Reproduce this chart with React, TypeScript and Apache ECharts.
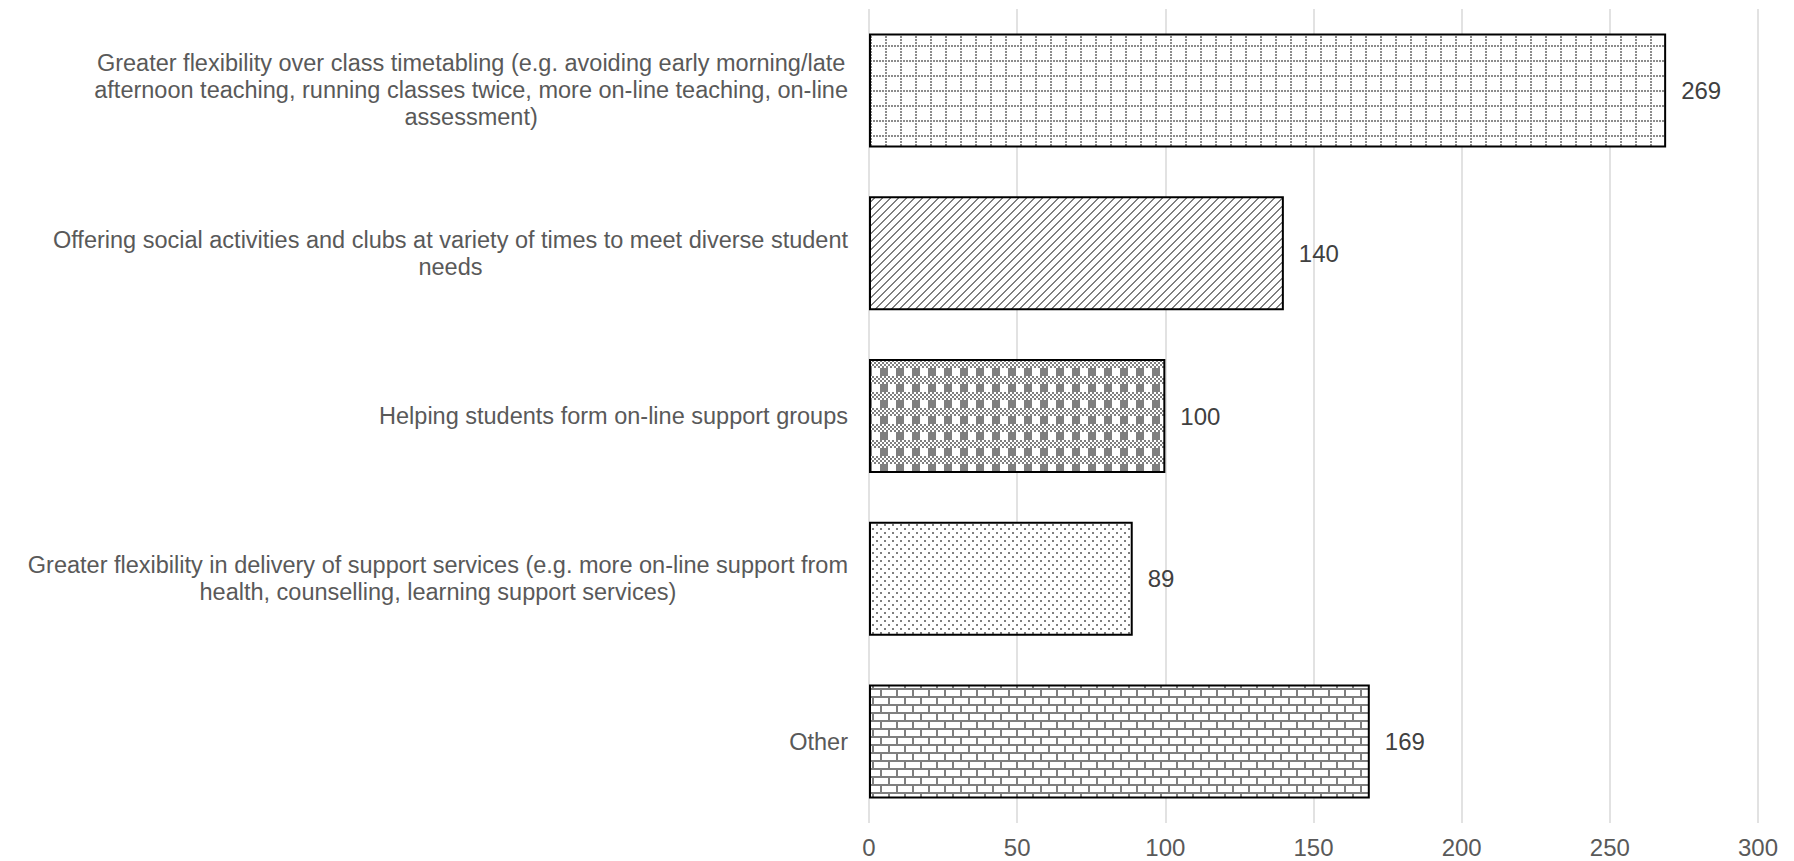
import React, { useEffect, useRef } from "react";
import * as echarts from "echarts";

const categories: string[] = [
  "Greater flexibility over class timetabling (e.g. avoiding early morning/late\nafternoon teaching, running classes twice, more on-line teaching, on-line\nassessment)",
  "Offering social activities and clubs at variety of times to meet diverse student\nneeds",
  "Helping students form on-line support groups",
  "Greater flexibility in delivery of support services (e.g. more on-line support from\nhealth, counselling, learning support services)",
  "Other",
];

const values: number[] = [269, 140, 100, 89, 169];

const xTicks = { min: 0, max: 300, interval: 50 };

const FONT = '"Liberation Sans", Arial, Helvetica, sans-serif';
const INK = "#7f7f7f";

type Painter = (ctx: CanvasRenderingContext2D) => void;

function makeTile(w: number, h: number, paint: Painter): HTMLCanvasElement {
  const c = document.createElement("canvas");
  c.width = w;
  c.height = h;
  const ctx = c.getContext("2d")!;
  ctx.fillStyle = "#ffffff";
  ctx.fillRect(0, 0, w, h);
  ctx.fillStyle = INK;
  paint(ctx);
  return c;
}

// dotted grid
const dottedGrid: Painter = (ctx) => {
  ctx.fillStyle = "#8c8c8c";
  for (let i = 0; i < 15; i += 3) {
    ctx.fillRect(i, 0, 2, 2);
    ctx.fillRect(0, i, 2, 2);
  }
};

// upward diagonal hatch
const diagonal: Painter = (ctx) => {
  for (let y = 0; y < 8; y++) {
    const x0 = 7 - y;
    for (let k = 0; k < 2; k++) ctx.fillRect((x0 + k) % 8, y, 1, 1);
  }
};

// plaid
const plaid: Painter = (ctx) => {
  ctx.fillRect(0, 0, 8, 8);
  for (let y = 8; y < 16; y += 2) {
    for (let x = 0; x < 16; x += 2) {
      if (((x + y) / 2) % 2 === 0) ctx.fillRect(x, y, 2, 2);
    }
  }
};

// small dots
const dots: Painter = (ctx) => {
  ctx.fillRect(0, 0, 2, 2);
  ctx.fillRect(4, 4, 2, 2);
};

// brick
const brick: Painter = (ctx) => {
  ctx.fillRect(0, 0, 16, 2);
  ctx.fillRect(0, 8, 16, 2);
  ctx.fillRect(0, 0, 2, 8);
  ctx.fillRect(8, 8, 2, 8);
};

export default function App() {
  const ref = useRef<HTMLDivElement>(null);

  useEffect(() => {
    if (!ref.current) return;
    const chart = echarts.init(ref.current, undefined, { renderer: "svg" });

    const tiles = [
      makeTile(15, 15, dottedGrid),
      makeTile(8, 8, diagonal),
      makeTile(16, 16, plaid),
      makeTile(8, 8, dots),
      makeTile(16, 16, brick),
    ];

    chart.setOption({
      animation: false,
      backgroundColor: "#ffffff",
      grid: {
        left: 869,
        right: 36,
        top: 9,
        bottom: 38,
        containLabel: false,
        outerBoundsMode: "none",
      },
      xAxis: {
        type: "value",
        min: xTicks.min,
        max: xTicks.max,
        interval: xTicks.interval,
        axisLine: { show: false },
        axisTick: { show: false },
        splitLine: { show: true, lineStyle: { color: "#d9d9d9", width: 1.5 } },
        axisLabel: {
          color: "#595959",
          fontSize: 24,
          lineHeight: 24,
          fontFamily: FONT,
          margin: 12,
        },
      },
      yAxis: {
        type: "category",
        data: categories,
        inverse: true,
        axisLine: { show: false },
        axisTick: { show: false },
        axisLabel: {
          margin: 21,
          align: "right",
          formatter: (v: string) =>
            v
              .split("\n")
              .map((l) => `{c|${l}}`)
              .join("\n"),
          rich: {
            c: {
              align: "center",
              fontSize: 23.5,
              lineHeight: 27,
              color: "#595959",
              fontFamily: FONT,
            },
          },
        },
      },
      series: [
        {
          type: "bar",
          barCategoryGap: "30%",
          data: values.map((v, i) => ({
            value: v,
            itemStyle: {
              color: { image: tiles[i], repeat: "repeat" },
              borderColor: "#000000",
              borderWidth: 2,
            },
          })),
          label: {
            show: true,
            position: "right",
            distance: 15,
            color: "#404040",
            fontSize: 24,
            fontFamily: FONT,
          },
        },
      ],
    });

    return () => chart.dispose();
  }, []);

  return (
    <div
      ref={ref}
      style={{ position: "fixed", left: 0, top: 0, width: 1794, height: 861 }}
    />
  );
}
